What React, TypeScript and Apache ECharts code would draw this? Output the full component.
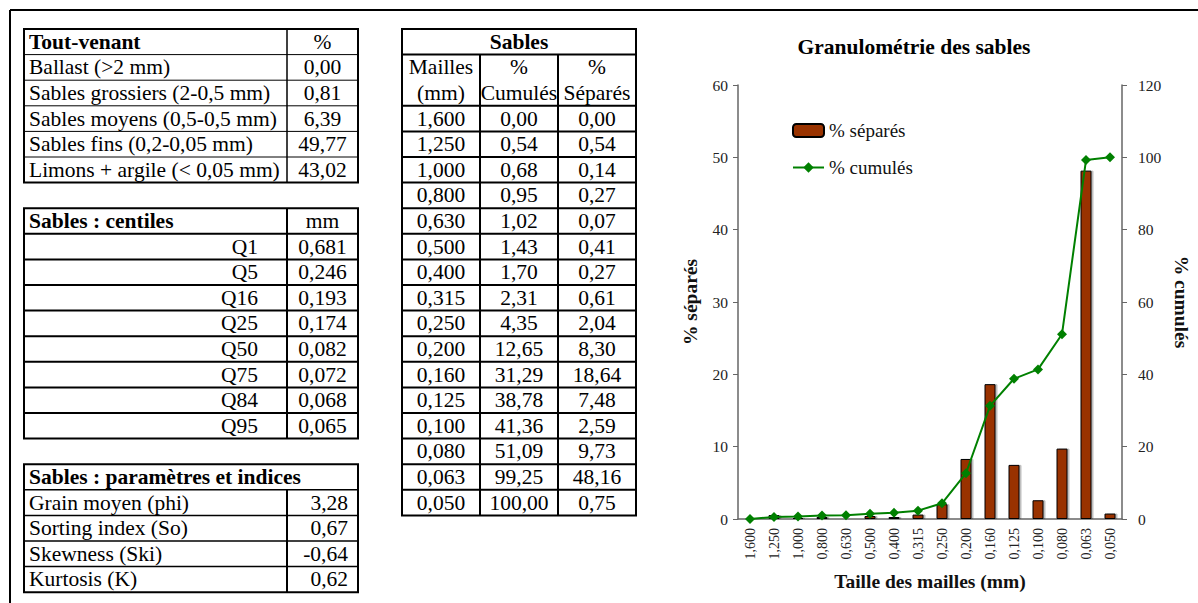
import React, { useEffect, useRef } from "react";
import * as echarts from "echarts";

// ---- Data ----
const mailles = [1.6, 1.25, 1.0, 0.8, 0.63, 0.5, 0.4, 0.315, 0.25, 0.2, 0.16, 0.125, 0.1, 0.08, 0.063, 0.05];
const cumules = [0, 0.54, 0.68, 0.95, 1.02, 1.43, 1.7, 2.31, 4.35, 12.65, 31.29, 38.78, 41.36, 51.09, 99.25, 100];
const separes = [0, 0.54, 0.14, 0.27, 0.07, 0.41, 0.27, 0.61, 2.04, 8.3, 18.64, 7.48, 2.59, 9.73, 48.16, 0.75];

const toutVenantLabels = [
  "Ballast (>2 mm)",
  "Sables grossiers (2-0,5 mm)",
  "Sables moyens (0,5-0,5 mm)",
  "Sables fins (0,2-0,05 mm)",
  "Limons + argile (< 0,05 mm)",
];
const toutVenantValues = [0, 0.81, 6.39, 49.77, 43.02];

const centileLabels = ["Q1", "Q5", "Q16", "Q25", "Q50", "Q75", "Q84", "Q95"];
const centileValues = [0.681, 0.246, 0.193, 0.174, 0.082, 0.072, 0.068, 0.065];

const paramLabels = ["Grain moyen (phi)", "Sorting index (So)", "Skewness (Ski)", "Kurtosis (K)"];
const paramValues = [3.28, 0.67, -0.64, 0.62];

const fmt = (v: number, d: number) => v.toFixed(d).replace(".", ",");

// ---- Layout helpers ----
const FONT = "Liberation Serif";
const FS = 21.5;
const T = 29;
const RH = 25.6;

function txt(x: number, y: number, s: string, align: string, bold = false, size = FS) {
  return {
    type: "text",
    x,
    y,
    silent: true,
    style: {
      text: s,
      fill: "#000",
      fontFamily: FONT,
      fontSize: size,
      fontWeight: bold ? "bold" : "normal",
      textAlign: align,
      align,
      textVerticalAlign: "middle",
      verticalAlign: "middle",
    },
  };
}
function ln(x1: number, y1: number, x2: number, y2: number, w: number) {
  return {
    type: "line",
    silent: true,
    shape: { x1, y1, x2, y2 },
    style: { stroke: "#000", lineWidth: w },
  };
}
function box(x: number, y: number, w: number, h: number, lw: number) {
  return {
    type: "rect",
    silent: true,
    shape: { x, y, width: w, height: h },
    style: { fill: "none", stroke: "#000", lineWidth: lw },
  };
}

function buildTables() {
  const g: any[] = [];
  const yc = (top: number, i: number) => top + i * RH + RH / 2;
  const L0 = 24, L1 = 287, L2 = 358;
  const lc = (L1 + L2) / 2;

  // frame
  g.push(ln(10, 10, 1198, 10, 2));
  g.push(ln(10, 10, 10, 603, 2));

  // Table 1 : Tout-venant
  {
    const top = T, n = 6;
    for (let i = 1; i < n; i++) g.push(ln(L0, top + i * RH, L2, top + i * RH, 1));
    g.push(ln(L1, top, L1, top + n * RH, 1.5));
    g.push(box(L0, top, L2 - L0, n * RH, 2));
    g.push(txt(29, yc(top, 0), "Tout-venant", "left", true));
    g.push(txt(lc, yc(top, 0), "%", "center"));
    toutVenantLabels.forEach((s, i) => {
      g.push(txt(29, yc(top, i + 1), s, "left"));
      g.push(txt(lc, yc(top, i + 1), fmt(toutVenantValues[i], 2), "center"));
    });
  }
  // Table 2 : centiles
  {
    const top = T + 7 * RH, n = 9;
    for (let i = 1; i < n; i++) g.push(ln(L0, top + i * RH, L2, top + i * RH, 2));
    g.push(ln(L1, top, L1, top + n * RH, 2));
    g.push(box(L0, top, L2 - L0, n * RH, 2));
    g.push(txt(29, yc(top, 0), "Sables : centiles", "left", true));
    g.push(txt(lc, yc(top, 0), "mm", "center"));
    centileLabels.forEach((s, i) => {
      g.push(txt(258, yc(top, i + 1), s, "right"));
      g.push(txt(lc, yc(top, i + 1), fmt(centileValues[i], 3), "center"));
    });
  }
  // Table 3 : paramètres
  {
    const top = T + 17 * RH, n = 5;
    for (let i = 1; i < n; i++) g.push(ln(L0, top + i * RH, L2, top + i * RH, 1.5));
    g.push(ln(L1, top + RH, L1, top + n * RH, 2));
    g.push(box(L0, top, L2 - L0, n * RH, 2));
    g.push(txt(29, yc(top, 0), "Sables : paramètres et indices", "left", true));
    paramLabels.forEach((s, i) => {
      g.push(txt(29, yc(top, i + 1), s, "left"));
      g.push(txt(348, yc(top, i + 1), fmt(paramValues[i], 2), "right"));
    });
  }
  // Table 4 : Sables
  {
    const S0 = 402, S1 = 480, S2 = 558, S3 = 636;
    const top = T, n = 19;
    const c1 = (S0 + S1) / 2, c2 = (S1 + S2) / 2, c3 = (S2 + S3) / 2;
    g.push(ln(S0, top + RH, S3, top + RH, 2));
    for (let i = 3; i < n; i++) g.push(ln(S0, top + i * RH, S3, top + i * RH, 2));
    g.push(ln(S1, top + RH, S1, top + n * RH, 2));
    g.push(ln(S2, top + RH, S2, top + n * RH, 2));
    g.push(box(S0, top, S3 - S0, n * RH, 2));
    g.push(txt((S0 + S3) / 2, yc(top, 0), "Sables", "center", true));
    g.push(txt(c1, yc(top, 1), "Mailles", "center"));
    g.push(txt(c1, yc(top, 2), "(mm)", "center"));
    g.push(txt(c2, yc(top, 1), "%", "center"));
    g.push(txt(c2, yc(top, 2), "Cumulés", "center"));
    g.push(txt(c3, yc(top, 1), "%", "center"));
    g.push(txt(c3, yc(top, 2), "Séparés", "center"));
    mailles.forEach((m, i) => {
      g.push(txt(c1, yc(top, i + 3), fmt(m, 3), "center"));
      g.push(txt(c2, yc(top, i + 3), fmt(cumules[i], 2), "center"));
      g.push(txt(c3, yc(top, i + 3), fmt(separes[i], 2), "center"));
    });
  }
  return g;
}

export default function App() {
  const ref = useRef<HTMLDivElement>(null);
  useEffect(() => {
    if (!ref.current) return;
    const chart = echarts.init(ref.current, undefined, { renderer: "svg" });
    const axisCol = "#666";
    const labCol = "#222";
    const nameStyle = { fontFamily: FONT, fontWeight: "bold", fontSize: 19.5, color: "#111" };
    const option: any = {
      animation: false,
      backgroundColor: "#fff",
      textStyle: { fontFamily: FONT },
      title: {
        text: "Granulométrie des sables",
        left: 909,
        top: 31,
        textAlign: "center",
        textStyle: { fontFamily: FONT, fontSize: 21.5, fontWeight: "bold", color: "#000" },
      },
      legend: {
        orient: "vertical",
        left: 787,
        top: 116,
        itemWidth: 31,
        itemHeight: 13,
        itemGap: 18,
        data: ["% séparés", "% cumulés"],
        textStyle: { fontFamily: FONT, fontSize: 19, color: "#111" },
      },
      grid: { left: 738, right: 76, top: 85, bottom: 84, containLabel: false },
      xAxis: {
        type: "category",
        data: mailles.map((m) => fmt(m, 3)),
        axisLine: { lineStyle: { color: axisCol, width: 1.5 } },
        axisTick: { length: 5, lineStyle: { color: axisCol } },
        axisLabel: { rotate: 90, fontSize: 14, color: labCol, margin: 9, fontFamily: FONT },
        name: "Taille des mailles (mm)",
        nameLocation: "middle",
        nameGap: 52,
        nameTextStyle: nameStyle,
      },
      yAxis: [
        {
          type: "value",
          min: 0,
          max: 60,
          interval: 10,
          name: "% séparés",
          nameLocation: "middle",
          nameRotate: 90,
          nameGap: 38,
          nameTextStyle: nameStyle,
          splitLine: { show: false },
          axisLine: { show: true, lineStyle: { color: axisCol, width: 1.5 } },
          axisTick: { show: true, length: 5, lineStyle: { color: axisCol } },
          axisLabel: { fontSize: 15.5, color: labCol, margin: 10, fontFamily: FONT },
        },
        {
          type: "value",
          min: 0,
          max: 120,
          interval: 20,
          position: "right",
          name: "% cumulés",
          nameLocation: "middle",
          nameRotate: -90,
          nameGap: 49,
          nameTextStyle: nameStyle,
          splitLine: { show: false },
          axisLine: { show: true, lineStyle: { color: axisCol, width: 1.5 } },
          axisTick: { show: true, length: 5, lineStyle: { color: axisCol } },
          axisLabel: { fontSize: 15.5, color: labCol, margin: 16, fontFamily: FONT },
        },
      ],
      series: [
        {
          type: "bar",
          name: "% séparés",
          data: separes,
          barWidth: 11,
          itemStyle: {
            color: "#993300",
            borderColor: "#000",
            borderWidth: 1,
            shadowColor: "rgba(0,0,0,0.25)",
            shadowOffsetX: 2,
            shadowOffsetY: 0,
            shadowBlur: 0,
          },
        },
        {
          type: "line",
          name: "% cumulés",
          yAxisIndex: 1,
          data: cumules,
          symbol: "diamond",
          symbolSize: 10,
          lineStyle: { color: "#008000", width: 2 },
          itemStyle: { color: "#008000" },
        },
      ],
      graphic: buildTables(),
    };
    chart.setOption(option);
    return () => chart.dispose();
  }, []);
  return (
    <div
      ref={ref}
      style={{ position: "absolute", left: 0, top: 0, width: 1198, height: 603 }}
    />
  );
}
